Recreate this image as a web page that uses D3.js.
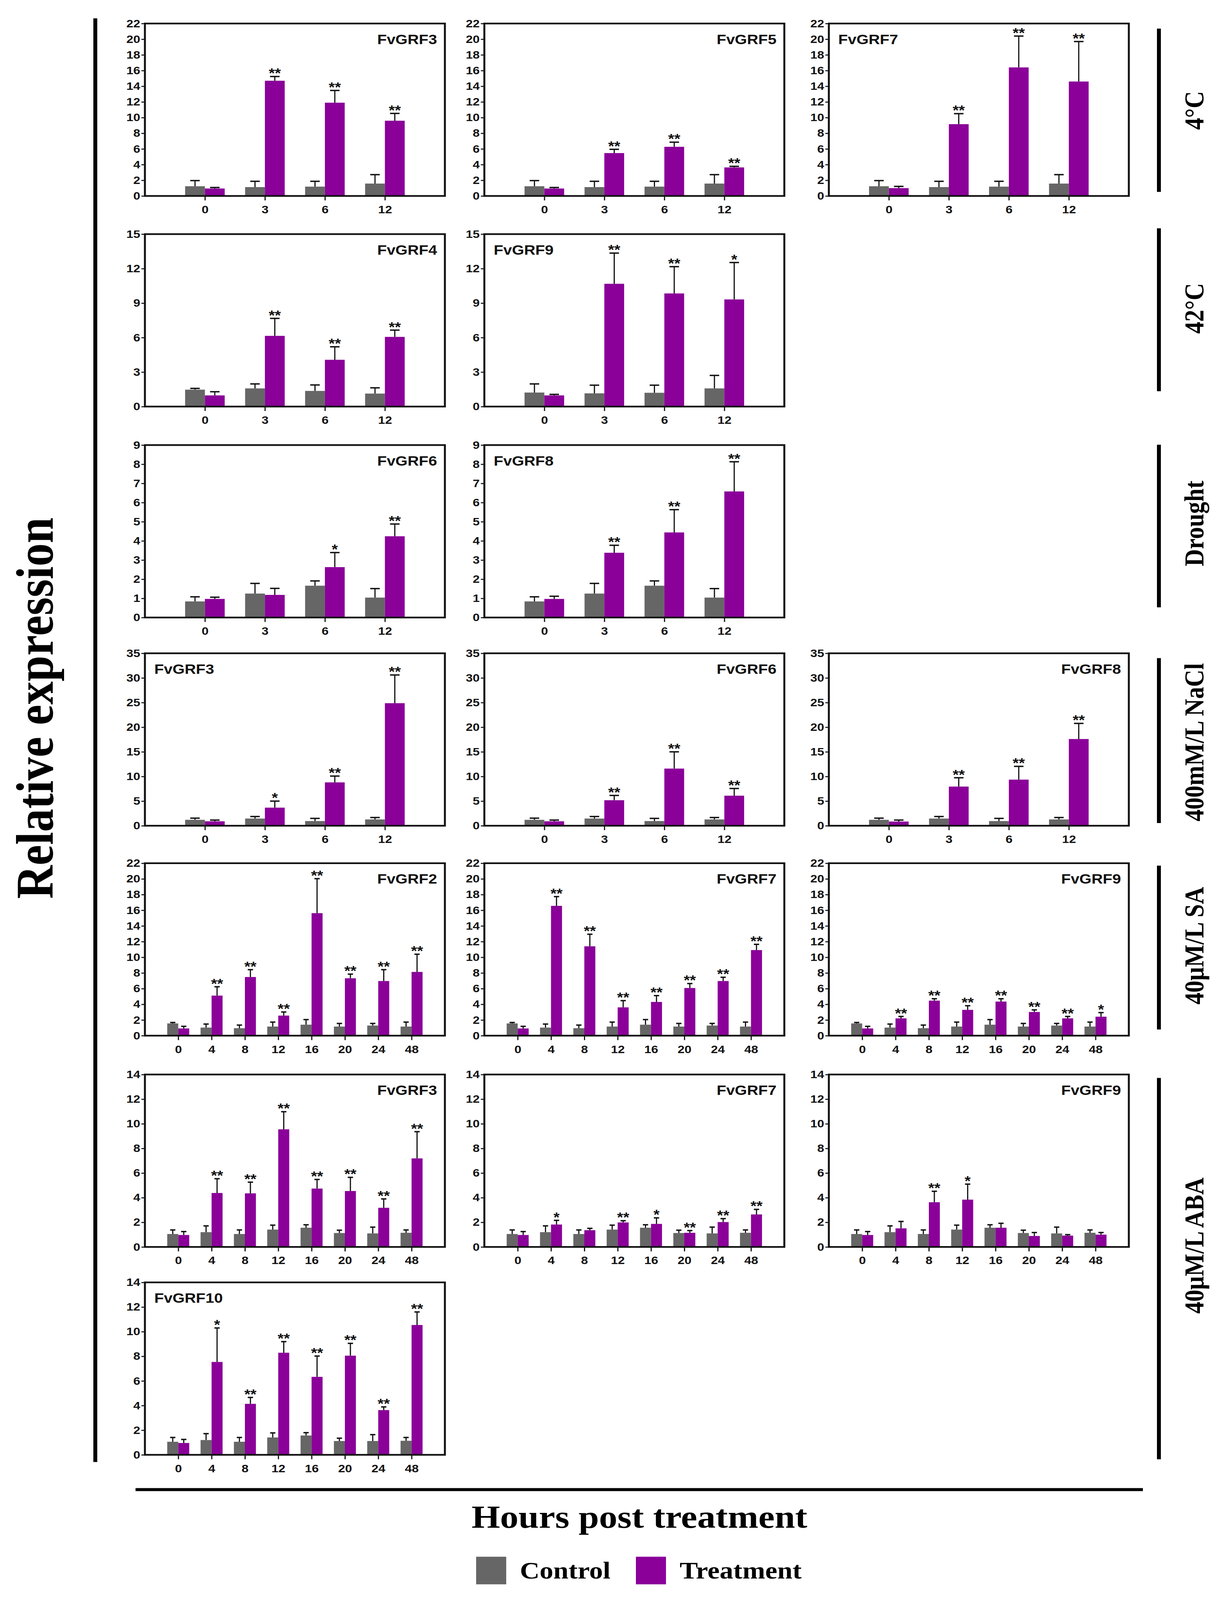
<!DOCTYPE html>
<html lang="en">
<head>
<meta charset="utf-8">
<script src="https://cdn.jsdelivr.net/npm/d3@7"></script>
<style>
    html, body { margin: 0; padding: 0; background: #fff; overflow: hidden; }
    svg { display: block; }
    .tick text { font-family: "Liberation Sans", Arial, sans-serif; font-weight: bold; font-size: 32px; fill: #111; }
    .tick line { stroke: #111; stroke-width: 3; }
    .axis path { display: none; }
    .title { font-family: "Liberation Sans", Arial, sans-serif; font-weight: bold; font-size: 40px; fill: #111; }
    .star { font-family: "Liberation Sans", Arial, sans-serif; font-weight: bold; font-size: 40px; fill: #111; }
    .serif { font-family: "Liberation Serif", "Times New Roman", serif; font-weight: bold; fill: #000; }
</style>
</head>
<body>
<div id="chart"></div>
<script>

    // time points (hours)
    var hours4 = ["0", "3", "6", "12"];
    var hours8 = ["0", "4", "8", "12", "16", "20", "24", "48"];

    // y tick labels per row
    var ticks22 = [0, 2, 4, 6, 8, 10, 12, 14, 16, 18, 20, 22];
    var ticks15 = [0, 3, 6, 9, 12, 15];
    var ticks9 = [0, 1, 2, 3, 4, 5, 6, 7, 8, 9];
    var ticks35 = [0, 5, 10, 15, 20, 25, 30, 35];
    var ticks14 = [0, 2, 4, 6, 8, 10, 12, 14];

    var treatments = ["4°C", "42°C", "Drought", "400mM/L NaCl", "40μM/L SA", "40μM/L ABA"];

    // 4°C
    var coldCtrl = [1.24, 1.13, 1.19, 1.58];
    var coldCtrlSd = [0.72, 0.74, 0.68, 1.14];
    var coldGRF3 = [0.95, 14.7, 11.9, 9.6];
    var coldGRF3Sd = [0.13, 0.54, 1.56, 0.93];
    var coldGRF3Sig = ["", "**", "**", "**"];
    var coldGRF5 = [0.95, 5.47, 6.27, 3.64];
    var coldGRF5Sd = [0.13, 0.48, 0.59, 0.14];
    var coldGRF5Sig = ["", "**", "**", "**"];
    var coldGRF7 = [1.0, 9.16, 16.4, 14.6];
    var coldGRF7Sd = [0.22, 1.34, 4.0, 5.1];
    var coldGRF7Sig = ["", "**", "**", "**"];

    // 42°C
    var heatCtrl4 = [1.47, 1.58, 1.36, 1.13];
    var heatCtrl4Sd = [0.11, 0.39, 0.52, 0.5];
    var heatGRF4 = [0.97, 6.15, 4.07, 6.06];
    var heatGRF4Sd = [0.32, 1.52, 1.13, 0.59];
    var heatGRF4Sig = ["", "**", "**", "**"];
    var heatCtrl9 = [1.22, 1.15, 1.2, 1.58];
    var heatCtrl9Sd = [0.75, 0.71, 0.66, 1.13];
    var heatGRF9 = [0.97, 10.68, 9.84, 9.32];
    var heatGRF9Sd = [0.09, 2.67, 2.33, 3.21];
    var heatGRF9Sig = ["", "**", "**", "*"];

    // Drought
    var dryCtrl = [0.84, 1.25, 1.66, 1.04];
    var dryCtrlSd = [0.24, 0.53, 0.25, 0.47];
    var dryGRF6 = [0.97, 1.18, 2.63, 4.24];
    var dryGRF6Sd = [0.09, 0.34, 0.76, 0.64];
    var dryGRF6Sig = ["", "", "*", "**"];
    var dryGRF8 = [0.97, 3.38, 4.44, 6.58];
    var dryGRF8Sd = [0.14, 0.39, 1.19, 1.55];
    var dryGRF8Sig = ["", "**", "**", "**"];

    // NaCl
    var saltCtrl = [1.2, 1.46, 0.95, 1.28];
    var saltCtrlSd = [0.34, 0.41, 0.54, 0.39];
    var saltGRF3 = [0.9, 3.67, 8.8, 24.87];
    var saltGRF3Sd = [0.25, 1.33, 1.28, 5.73];
    var saltGRF3Sig = ["", "*", "**", "**"];
    var saltGRF6 = [0.9, 5.18, 11.6, 6.1];
    var saltGRF6Sd = [0.25, 0.97, 3.4, 1.46];
    var saltGRF6Sig = ["", "**", "**", "**"];
    var saltGRF8 = [0.85, 7.95, 9.36, 17.6];
    var saltGRF8Sd = [0.3, 1.79, 2.69, 3.17];
    var saltGRF8Sig = ["", "**", "**", "**"];

    // SA
    var saCtrl = [1.56, 1.03, 0.95, 1.16, 1.4, 1.16, 1.29, 1.16];
    var saCtrlSd = [0.12, 0.45, 0.4, 0.57, 0.65, 0.4, 0.27, 0.57];
    var saGRF2 = [0.92, 5.11, 7.48, 2.56, 15.63, 7.32, 6.97, 8.13];
    var saGRF2Sd = [0.27, 1.13, 0.94, 0.46, 4.4, 0.53, 1.45, 2.26];
    var saGRF2Sig = ["", "**", "**", "**", "**", "**", "**", "**"];
    var saGRF7 = [0.92, 16.56, 11.4, 3.61, 4.3, 6.08, 6.97, 10.92];
    var saGRF7Sd = [0.27, 1.18, 1.54, 0.86, 0.81, 0.57, 0.48, 0.73];
    var saGRF7Sig = ["", "**", "**", "**", "**", "**", "**", "**"];
    var saGRF9 = [0.92, 2.21, 4.47, 3.29, 4.35, 3.02, 2.21, 2.42];
    var saGRF9Sd = [0.27, 0.24, 0.24, 0.53, 0.36, 0.27, 0.24, 0.52];
    var saGRF9Sig = ["", "**", "**", "**", "**", "**", "**", "*"];

    // ABA
    var abaCtrl = [1.05, 1.2, 1.05, 1.41, 1.56, 1.13, 1.1, 1.15];
    var abaCtrlSd = [0.33, 0.51, 0.33, 0.36, 0.24, 0.23, 0.51, 0.23];
    var abaGRF3 = [0.97, 4.38, 4.35, 9.55, 4.74, 4.54, 3.18, 7.19];
    var abaGRF3Sd = [0.28, 1.16, 0.91, 1.43, 0.74, 1.11, 0.72, 2.17];
    var abaGRF3Sig = ["", "**", "**", "**", "**", "**", "**", "**"];
    var abaGRF7 = [0.97, 1.82, 1.36, 1.99, 1.87, 1.15, 2.02, 2.64];
    var abaGRF7Sd = [0.28, 0.34, 0.15, 0.14, 0.49, 0.18, 0.28, 0.41];
    var abaGRF7Sig = ["", "*", "", "**", "*", "**", "**", "**"];
    var abaGRF9 = [0.97, 1.51, 3.63, 3.84, 1.56, 0.89, 0.92, 1.0];
    var abaGRF9Sd = [0.28, 0.56, 0.89, 1.26, 0.36, 0.28, 0.08, 0.17];
    var abaGRF9Sig = ["", "", "**", "*", "", "", "", ""];
    var abaCtrl10 = [1.06, 1.2, 1.06, 1.41, 1.57, 1.12, 1.12, 1.14];
    var abaCtrl10Sd = [0.35, 0.52, 0.35, 0.37, 0.23, 0.23, 0.52, 0.27];
    var abaGRF10 = [0.96, 7.54, 4.14, 8.29, 6.33, 8.05, 3.63, 10.54];
    var abaGRF10Sd = [0.29, 2.76, 0.52, 0.9, 1.69, 1.0, 0.26, 1.06];
    var abaGRF10Sig = ["", "*", "**", "**", "**", "**", "**", "**"];

    var ctrlColor = "#666666";
    var trtColor = "#8a0099";

    // layout (in figure units, 3149 x 4695)
    var FW = 3149, FH = 4695;
    var rowTop = [69, 687, 1306, 1917, 2533, 3153, 3763];
    var colLeft = [371, 1240, 2122];
    var W = 768, H = 506;

    var panels = [
        {row: 0, col: 0, name: "FvGRF3", hours: hours4, ticks: ticks22, c: coldCtrl, cs: coldCtrlSd, t: coldGRF3, ts: coldGRF3Sd, sig: coldGRF3Sig, side: "right"},
        {row: 0, col: 1, name: "FvGRF5", hours: hours4, ticks: ticks22, c: coldCtrl, cs: coldCtrlSd, t: coldGRF5, ts: coldGRF5Sd, sig: coldGRF5Sig, side: "right"},
        {row: 0, col: 2, name: "FvGRF7", hours: hours4, ticks: ticks22, c: coldCtrl, cs: coldCtrlSd, t: coldGRF7, ts: coldGRF7Sd, sig: coldGRF7Sig, side: "left"},
        {row: 1, col: 0, name: "FvGRF4", hours: hours4, ticks: ticks15, c: heatCtrl4, cs: heatCtrl4Sd, t: heatGRF4, ts: heatGRF4Sd, sig: heatGRF4Sig, side: "right"},
        {row: 1, col: 1, name: "FvGRF9", hours: hours4, ticks: ticks15, c: heatCtrl9, cs: heatCtrl9Sd, t: heatGRF9, ts: heatGRF9Sd, sig: heatGRF9Sig, side: "left"},
        {row: 2, col: 0, name: "FvGRF6", hours: hours4, ticks: ticks9, c: dryCtrl, cs: dryCtrlSd, t: dryGRF6, ts: dryGRF6Sd, sig: dryGRF6Sig, side: "right"},
        {row: 2, col: 1, name: "FvGRF8", hours: hours4, ticks: ticks9, c: dryCtrl, cs: dryCtrlSd, t: dryGRF8, ts: dryGRF8Sd, sig: dryGRF8Sig, side: "left"},
        {row: 3, col: 0, name: "FvGRF3", hours: hours4, ticks: ticks35, c: saltCtrl, cs: saltCtrlSd, t: saltGRF3, ts: saltGRF3Sd, sig: saltGRF3Sig, side: "left"},
        {row: 3, col: 1, name: "FvGRF6", hours: hours4, ticks: ticks35, c: saltCtrl, cs: saltCtrlSd, t: saltGRF6, ts: saltGRF6Sd, sig: saltGRF6Sig, side: "right"},
        {row: 3, col: 2, name: "FvGRF8", hours: hours4, ticks: ticks35, c: saltCtrl, cs: saltCtrlSd, t: saltGRF8, ts: saltGRF8Sd, sig: saltGRF8Sig, side: "right"},
        {row: 4, col: 0, name: "FvGRF2", hours: hours8, ticks: ticks22, c: saCtrl, cs: saCtrlSd, t: saGRF2, ts: saGRF2Sd, sig: saGRF2Sig, side: "right"},
        {row: 4, col: 1, name: "FvGRF7", hours: hours8, ticks: ticks22, c: saCtrl, cs: saCtrlSd, t: saGRF7, ts: saGRF7Sd, sig: saGRF7Sig, side: "right"},
        {row: 4, col: 2, name: "FvGRF9", hours: hours8, ticks: ticks22, c: saCtrl, cs: saCtrlSd, t: saGRF9, ts: saGRF9Sd, sig: saGRF9Sig, side: "right"},
        {row: 5, col: 0, name: "FvGRF3", hours: hours8, ticks: ticks14, c: abaCtrl, cs: abaCtrlSd, t: abaGRF3, ts: abaGRF3Sd, sig: abaGRF3Sig, side: "right"},
        {row: 5, col: 1, name: "FvGRF7", hours: hours8, ticks: ticks14, c: abaCtrl, cs: abaCtrlSd, t: abaGRF7, ts: abaGRF7Sd, sig: abaGRF7Sig, side: "right"},
        {row: 5, col: 2, name: "FvGRF9", hours: hours8, ticks: ticks14, c: abaCtrl, cs: abaCtrlSd, t: abaGRF9, ts: abaGRF9Sd, sig: abaGRF9Sig, side: "right"},
        {row: 6, col: 0, name: "FvGRF10", hours: hours8, ticks: ticks14, c: abaCtrl10, cs: abaCtrl10Sd, t: abaGRF10, ts: abaGRF10Sd, sig: abaGRF10Sig, side: "left"}
    ];

    // fit the whole figure into whatever viewport we are photographed in
    var vw = window.innerWidth || FW;
    var vh = window.innerHeight || FH;

    var svg = d3.select("#chart").append("svg")
        .attr("width", vw)
        .attr("height", vh)
        .attr("viewBox", "0 0 " + FW + " " + FH)
        .attr("preserveAspectRatio", "none");

    svg.append("rect").attr("width", FW).attr("height", FH).attr("fill", "#fff");

    panels.forEach(function (p) {
        var g = svg.append("g")
            .attr("transform", "translate(" + colLeft[p.col] + "," + rowTop[p.row] + ")");

        var x = d3.scalePoint().domain(p.hours).range([0, W]).padding(1);
        var y = d3.scaleLinear().domain([0, d3.max(p.ticks)]).range([H, 0]);
        var bw = x.step() * 0.33;
        var cap = bw * 0.48;

        // control on the left of each tick, treatment on the right
        var series = [
            {vals: p.c, sd: p.cs, off: -bw, color: ctrlColor, sig: null},
            {vals: p.t, sd: p.ts, off: 0, color: trtColor, sig: p.sig}
        ];

        series.forEach(function (s) {
            var rows = p.hours.map(function (h, i) {
                return {h: h, v: s.vals[i], e: s.sd[i], sig: s.sig ? s.sig[i] : ""};
            });

            g.selectAll(null).data(rows).enter().append("rect")
                .attr("x", function (d) { return x(d.h) + s.off; })
                .attr("y", function (d) { return y(d.v); })
                .attr("width", bw)
                .attr("height", function (d) { return H - y(d.v); })
                .attr("fill", s.color);

            // error bars (upper half only)
            g.selectAll(null).data(rows).enter().append("line")
                .attr("x1", function (d) { return x(d.h) + s.off + bw / 2; })
                .attr("x2", function (d) { return x(d.h) + s.off + bw / 2; })
                .attr("y1", function (d) { return y(d.v); })
                .attr("y2", function (d) { return y(d.v + d.e); })
                .attr("stroke", "#111")
                .attr("stroke-width", 3);

            g.selectAll(null).data(rows).enter().append("line")
                .attr("x1", function (d) { return x(d.h) + s.off + bw / 2 - cap / 2; })
                .attr("x2", function (d) { return x(d.h) + s.off + bw / 2 + cap / 2; })
                .attr("y1", function (d) { return y(d.v + d.e); })
                .attr("y2", function (d) { return y(d.v + d.e); })
                .attr("stroke", "#111")
                .attr("stroke-width", 4);

            g.selectAll(null).data(rows.filter(function (d) { return d.sig; })).enter().append("text")
                .attr("class", "star")
                .attr("x", function (d) { return x(d.h) + s.off + bw / 2; })
                .attr("y", function (d) { return y(d.v + d.e) + 4; })
                .attr("text-anchor", "middle")
                .text(function (d) { return d.sig; });
        });

        g.append("g")
            .attr("class", "axis")
            .attr("transform", "translate(0," + H + ")")
            .call(d3.axisBottom(x).tickSize(13).tickSizeOuter(0).tickPadding(15));

        g.append("g")
            .attr("class", "axis")
            .call(d3.axisLeft(y).tickValues(p.ticks).tickSize(9).tickSizeOuter(0).tickPadding(3));

        // frame
        g.append("rect")
            .attr("width", W)
            .attr("height", H)
            .attr("fill", "none")
            .attr("stroke", "#111")
            .attr("stroke-width", 5);

        g.append("text")
            .attr("class", "title")
            .attr("x", p.side === "right" ? W - 20 : 24)
            .attr("y", 60)
            .attr("text-anchor", p.side === "right" ? "end" : "start")
            .text(p.name);
    });

    // left bracket and y title
    svg.append("line")
        .attr("x1", 244).attr("x2", 244).attr("y1", 54).attr("y2", 4290)
        .attr("stroke", "#000").attr("stroke-width", 10);

    svg.append("text")
        .attr("class", "serif")
        .attr("transform", "translate(135,2078) rotate(-90)")
        .attr("text-anchor", "middle")
        .style("font-size", "136px")
        .text("Relative expression");

    // right treatment brackets
    var bracketY = [[84, 563], [670, 1148], [1305, 1782], [1931, 2415], [2540, 3021], [3163, 4282]];
    var labelY = [324, 905, 1536, 2178, 2775, 3655];

    svg.selectAll(null).data(bracketY).enter().append("line")
        .attr("x1", 2967).attr("x2", 2967)
        .attr("y1", function (d) { return d[0]; })
        .attr("y2", function (d) { return d[1]; })
        .attr("stroke", "#000").attr("stroke-width", 10);

    svg.selectAll(null).data(treatments).enter().append("text")
        .attr("class", "serif")
        .attr("transform", function (d, i) { return "translate(3081," + labelY[i] + ") rotate(-90)"; })
        .attr("text-anchor", "middle")
        .style("font-size", "70px")
        .text(function (d) { return d; });

    // bottom bracket and x title
    svg.append("line")
        .attr("x1", 347).attr("x2", 2926).attr("y1", 4371).attr("y2", 4371)
        .attr("stroke", "#000").attr("stroke-width", 9);

    svg.append("text")
        .attr("class", "serif")
        .attr("x", 1637).attr("y", 4483)
        .attr("text-anchor", "middle")
        .style("font-size", "94px")
        .text("Hours post treatment");

    // legend
    var legend = [
        {name: "Control", color: ctrlColor, x: 1219},
        {name: "Treatment", color: trtColor, x: 1628}
    ];
    var lg = svg.selectAll(null).data(legend).enter().append("g");
    lg.append("rect")
        .attr("x", function (d) { return d.x; })
        .attr("y", 4568)
        .attr("width", 77)
        .attr("height", 81)
        .attr("fill", function (d) { return d.color; });
    lg.append("text")
        .attr("class", "serif")
        .attr("x", function (d) { return d.x + 112; })
        .attr("y", 4632)
        .style("font-size", "70px")
        .text(function (d) { return d.name; });

</script>
</body>
</html>
